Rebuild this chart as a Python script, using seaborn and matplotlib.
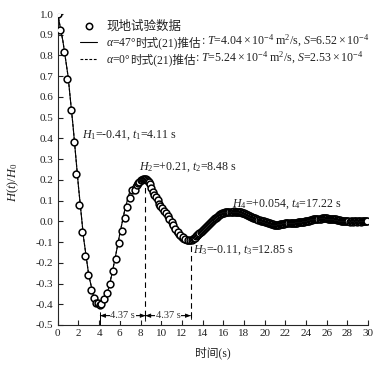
import matplotlib
matplotlib.use("Agg")
import matplotlib.pyplot as plt
import seaborn as sns
import pandas as pd
from matplotlib.lines import Line2D

# ---- measured field data (现地试验数据), early part ----
obs_t_a = [0, 0.26, 0.58, 0.93, 1.25, 1.54, 1.8, 2.05, 2.31, 2.64, 2.93, 3.25, 3.5, 3.7,
           3.92, 4.1, 4.21, 4.47, 4.75, 5.05, 5.37, 5.66, 5.91, 6.2, 6.46, 6.68, 6.94, 7.2,
           7.43, 7.65, 7.8, 7.9, 8.0, 8.1, 8.2, 8.3, 8.4, 8.5, 8.6, 8.7, 8.8, 8.9, 9.03, 9.2,
           9.35, 9.5, 9.67, 9.8, 9.93, 10.1, 10.3, 10.48, 10.65, 10.8, 11.0, 11.12, 11.35,
           11.6, 11.85, 12.08, 12.3, 12.57, 12.8]
obs_h_a = [1.0, 0.923, 0.818, 0.686, 0.537, 0.384, 0.228, 0.08, -0.053, -0.167, -0.26, -0.33,
           -0.372, -0.396, -0.396, -0.405, -0.40, -0.376, -0.347, -0.30, -0.238, -0.18, -0.106,
           -0.048, 0.017, 0.067, 0.114, 0.151, 0.151, 0.175, 0.185, 0.19, 0.197, 0.2, 0.203,
           0.204, 0.204, 0.203, 0.2, 0.196, 0.19, 0.178, 0.16, 0.14, 0.127, 0.115, 0.103, 0.085,
           0.074, 0.065, 0.05, 0.039, 0.025, 0.01, -0.005, -0.018, -0.035, -0.053, -0.065,
           -0.074, -0.083, -0.09, -0.092]

# ---- measured field data, late part (dense record, 13.0 s to 29.9 s every 0.1 s) ----
obs_t_b = [13.0, 13.1, 13.2, 13.3, 13.4, 13.5, 13.6, 13.7, 13.8, 13.9,
           14.0, 14.1, 14.2, 14.3, 14.4, 14.5, 14.6, 14.7, 14.8, 14.9,
           15.0, 15.1, 15.2, 15.3, 15.4, 15.5, 15.6, 15.7, 15.8, 15.9,
           16.0, 16.1, 16.2, 16.3, 16.4, 16.5, 16.6, 16.7, 16.8, 16.9,
           17.0, 17.1, 17.2, 17.3, 17.4, 17.5, 17.6, 17.7, 17.8, 17.9,
           18.0, 18.1, 18.2, 18.3, 18.4, 18.5, 18.6, 18.7, 18.8, 18.9,
           19.0, 19.1, 19.2, 19.3, 19.4, 19.5, 19.6, 19.7, 19.8, 19.9,
           20.0, 20.1, 20.2, 20.3, 20.4, 20.5, 20.6, 20.7, 20.8, 20.9,
           21.0, 21.1, 21.2, 21.3, 21.4, 21.5, 21.6, 21.7, 21.8, 21.9,
           22.0, 22.1, 22.2, 22.3, 22.4, 22.5, 22.6, 22.7, 22.8, 22.9,
           23.0, 23.1, 23.2, 23.3, 23.4, 23.5, 23.6, 23.7, 23.8, 23.9,
           24.0, 24.1, 24.2, 24.3, 24.4, 24.5, 24.6, 24.7, 24.8, 24.9,
           25.0, 25.1, 25.2, 25.3, 25.4, 25.5, 25.6, 25.7, 25.8, 25.9,
           26.0, 26.1, 26.2, 26.3, 26.4, 26.5, 26.6, 26.7, 26.8, 26.9,
           27.0, 27.1, 27.2, 27.3, 27.4, 27.5, 27.6, 27.7, 27.8, 27.9,
           28.0, 28.1, 28.2, 28.3, 28.4, 28.5, 28.6, 28.7, 28.8, 28.9,
           29.0, 29.1, 29.2, 29.3, 29.4, 29.5, 29.6, 29.7, 29.8, 29.9]
obs_h_b = [-0.088, -0.085, -0.081, -0.078, -0.073, -0.068, -0.063, -0.058, -0.052, -0.046,
           -0.041, -0.036, -0.030, -0.026, -0.021, -0.016, -0.011, -0.007, -0.003, 0.002,
           0.006, 0.010, 0.014, 0.018, 0.022, 0.026, 0.029, 0.033, 0.036, 0.038,
           0.040, 0.042, 0.043, 0.044, 0.045, 0.046, 0.046, 0.047, 0.047, 0.047,
           0.048, 0.047, 0.047, 0.047, 0.046, 0.045, 0.044, 0.043, 0.041, 0.040,
           0.038, 0.036, 0.034, 0.032, 0.029, 0.027, 0.025, 0.022, 0.020, 0.018,
           0.016, 0.014, 0.012, 0.010, 0.008, 0.006, 0.004, 0.003, 0.001, 0.000,
           -0.001, -0.003, -0.004, -0.006, -0.008, -0.010, -0.011, -0.013, -0.015, -0.016,
           -0.017, -0.018, -0.018, -0.017, -0.016, -0.015, -0.014, -0.013, -0.012, -0.011,
           -0.010, -0.010, -0.009, -0.009, -0.008, -0.008, -0.008, -0.007, -0.007, -0.007,
           -0.007, -0.006, -0.005, -0.005, -0.004, -0.003, -0.002, -0.002, -0.001, 0.000,
           0.001, 0.002, 0.003, 0.004, 0.005, 0.007, 0.008, 0.009, 0.010, 0.011,
           0.011, 0.012, 0.012, 0.013, 0.013, 0.014, 0.014, 0.014, 0.014, 0.014,
           0.014, 0.013, 0.013, 0.012, 0.012, 0.011, 0.011, 0.010, 0.010, 0.009,
           0.008, 0.007, 0.006, 0.005, 0.004, 0.003, 0.002, 0.001, 0.001, 0.000,
           0.000, 0.000, -0.001, 0.000, 0.000, -0.001, 0.000, 0.000, 0.000, -0.001,
           0.000, 0.000, 0.000, -0.001, 0.000, 0.000, 0.000, 0.001, 0.000, 0.000]

# ---- model curve alpha=47 deg ----
m47_t = [0, 0.5, 1.0, 1.5, 2.0, 2.5, 3.0, 3.5, 4.0, 4.11, 4.5, 5.0, 5.5, 6.0, 6.5, 7.0, 7.5,
         8.0, 8.48, 9.0, 9.5, 10.0, 10.5, 11.0, 11.5, 12.0, 12.5, 12.85, 13.5, 14.0, 14.5,
         15.0, 15.5, 16.0, 16.5, 17.22, 17.5, 18.0, 18.5, 19.0, 19.5, 20.0, 20.5, 21.0, 21.5,
         22.0, 22.5, 23.0, 23.5, 24.0, 24.5, 25.0, 25.5, 26.0, 26.5, 27.0, 27.5, 28.0, 28.5,
         29.0, 29.5, 30.0]
m47_h = [1.0, 0.87, 0.70, 0.45, 0.17, -0.08, -0.26, -0.37, -0.405, -0.41, -0.39, -0.31,
         -0.19, -0.06, 0.06, 0.15, 0.185, 0.205, 0.21, 0.19, 0.14, 0.08, 0.02, -0.035, -0.075,
         -0.10, -0.11, -0.11, -0.095, -0.07, -0.04, -0.01, 0.02, 0.04, 0.052, 0.054, 0.053,
         0.046, 0.033, 0.018, 0.003, -0.01, -0.02, -0.026, -0.028, -0.025, -0.019, -0.011,
         -0.003, 0.005, 0.011, 0.014, 0.014, 0.012, 0.009, 0.004, -0.001, -0.005, -0.007,
         -0.007, -0.005, -0.003]

# ---- model curve alpha=0 deg ----
m0_t = m47_t
m0_h = [1.0, 0.87, 0.70, 0.45, 0.17, -0.08, -0.26, -0.37, -0.40, -0.405, -0.385, -0.305,
        -0.19, -0.06, 0.06, 0.148, 0.183, 0.202, 0.207, 0.188, 0.14, 0.08, 0.02, -0.033,
        -0.073, -0.098, -0.108, -0.108, -0.093, -0.069, -0.04, -0.01, 0.019, 0.039, 0.05,
        0.052, 0.051, 0.045, 0.032, 0.018, 0.003, -0.01, -0.019, -0.025, -0.027, -0.024,
        -0.018, -0.011, -0.003, 0.005, 0.01, 0.013, 0.013, 0.011, 0.008, 0.004, -0.001,
        -0.005, -0.006, -0.006, -0.005, -0.003]

# extrema annotations
ext_t = [4.11, 8.48, 12.85, 17.22]
ext_h = [-0.41, 0.21, -0.11, 0.054]
ext_lbl = [r"$H_1$=-0.41, $t_1$=4.11 s", r"$H_2$=+0.21, $t_2$=8.48 s",
           r"$H_3$=-0.11, $t_3$=12.85 s", r"$H_4$=+0.054, $t_4$=17.22 s"]
half_period = "4.37 s"

x_ticks = list(range(0, 31, 2))
y_ticks = [-0.5, -0.4, -0.3, -0.2, -0.1, 0.0, 0.1, 0.2, 0.3, 0.4, 0.5, 0.6, 0.7, 0.8, 0.9, 1.0]

# legend labels split into (math head, chinese middle, math tail)
legend_parts = [
    ("", "现地试验数据", ""),
    (r"$\mathit{\alpha}$=47°", "时式(21)推估",
     r": $T$=$4.04\times10^{-4}$ m$^2$/s, $S$=$6.52\times10^{-4}$"),
    (r"$\mathit{\alpha}$=0°", "时式(21)推估",
     r": $T$=$5.24\times10^{-4}$ m$^2$/s, $S$=$2.53\times10^{-4}$"),
]

sns.set_style("ticks")
plt.rcParams["font.family"] = ["Liberation Serif", "Noto Sans CJK SC", "DejaVu Sans"]
plt.rcParams["mathtext.fontset"] = "custom"
plt.rcParams["mathtext.rm"] = "Liberation Serif"
plt.rcParams["mathtext.it"] = "Liberation Serif:italic"
plt.rcParams["mathtext.bf"] = "Liberation Serif:bold"
plt.rcParams["axes.unicode_minus"] = False

fig = plt.figure(figsize=(3.9, 3.65), dpi=100)
ax = fig.add_axes([0.148, 0.1096, 0.796, 0.852])

df_obs = pd.DataFrame({"t": obs_t_a + obs_t_b, "h": obs_h_a + obs_h_b})
df_47 = pd.DataFrame({"t": m47_t, "h": m47_h})
df_0 = pd.DataFrame({"t": m0_t, "h": m0_h})

sns.lineplot(data=df_0, x="t", y="h", ax=ax, color="black", lw=0.8,
             linestyle=(0, (2.5, 1.5)), sort=False, estimator=None, zorder=2)
sns.lineplot(data=df_47, x="t", y="h", ax=ax, color="black", lw=0.8,
             sort=False, estimator=None, zorder=3)
sns.scatterplot(data=df_obs, x="t", y="h", ax=ax, marker="o", s=24,
                facecolor="white", edgecolor="black", linewidth=1.1, zorder=4)

ax.set_xlim(0, 30)
ax.set_ylim(-0.5, 1.0)
ax.set_xticks(x_ticks)
ax.set_yticks(y_ticks)
ax.set_yticklabels([f"{v:.1f}" for v in y_ticks])
ax.tick_params(direction="in", length=3.5, width=0.8, labelsize=8, pad=3, colors="#222222")
for s in ["top", "right"]:
    ax.spines[s].set_visible(False)
for s in ["left", "bottom"]:
    ax.spines[s].set_linewidth(0.8)

ax.set_xlabel("时间(s)", fontsize=8.5, labelpad=6, color="#222222")
ax.set_ylabel(r"$H$($t$)/$H_0$", fontsize=9, color="#222222")
ax.yaxis.set_label_coords(-0.118, 0.46)

# annotation texts
lbl_pos = [(2.31, 0.416), (7.84, 0.262), (13.05, -0.138), (16.85, 0.083)]
for (x, y), lbl in zip(lbl_pos, ext_lbl):
    ax.text(x, y, lbl, fontsize=8.6, ha="left", va="center", color="#222222")

# vertical markers
dash = (0, (5, 3.5))
ax.plot([ext_t[0], ext_t[0]], [-0.44, -0.5], color="black", lw=0.7)
ax.plot([ext_t[1], ext_t[1]], [ext_h[1], -0.48], color="black", lw=0.8, linestyle=dash)
ax.plot([ext_t[2], ext_t[2]], [ext_h[2] - 0.01, -0.47], color="black", lw=0.8, linestyle=dash)

# half-period arrows
ya = -0.455
for a, b in [(ext_t[0], ext_t[1]), (ext_t[1], ext_t[2])]:
    ax.annotate("", xy=(a, ya), xytext=(b, ya),
                arrowprops=dict(arrowstyle="|-|,widthA=0.25,widthB=0.25", lw=0.6, color="black",
                                shrinkA=0, shrinkB=0))
    ax.annotate("", xy=(a, ya), xytext=(b, ya),
                arrowprops=dict(arrowstyle="<|-|>,head_length=0.3,head_width=0.12", lw=0.6,
                                color="black", shrinkA=0, shrinkB=0))
    ax.text((a + b) / 2, ya, half_period, fontsize=7.5, ha="center", va="center",
            color="#333333", bbox=dict(facecolor="white", edgecolor="none", pad=0.6))

handles = [
    Line2D([], [], marker="o", linestyle="none", markersize=4.6, markerfacecolor="white",
           markeredgecolor="black", markeredgewidth=1.1),
    Line2D([], [], color="black", lw=0.8),
    Line2D([], [], color="black", lw=0.8, linestyle=(0, (2.5, 1.5))),
]
first_labels = [p[0] if p[0] else p[1] for p in legend_parts]
leg = fig.legend(handles, first_labels, loc="upper left", bbox_to_anchor=(0.205, 0.944),
                 frameon=False, fontsize=8.4, handlelength=1.5, handletextpad=0.75,
                 labelspacing=0.4, borderpad=0, borderaxespad=0, labelcolor="#222222")
leg.get_texts()[0].set_fontsize(9)

# continue the legend labels with the pieces that need a CJK font / math text
fig.canvas.draw()
renderer = fig.canvas.get_renderer()
W, H = fig.bbox.width, fig.bbox.height
for txt, (head, mid, tail) in zip(leg.get_texts(), legend_parts):
    if not head:
        continue
    bb = txt.get_window_extent(renderer)
    t_mid = fig.text((bb.x1 - 1.0) / W, bb.y0 / H, mid, ha="left", va="bottom",
                     fontsize=8.4, color="#222222")
    bb2 = t_mid.get_window_extent(renderer)
    fig.text(bb2.x1 / W, bb.y0 / H, tail, ha="left", va="bottom",
             fontsize=8.6, color="#222222")

fig.savefig("out.png", dpi=100)
